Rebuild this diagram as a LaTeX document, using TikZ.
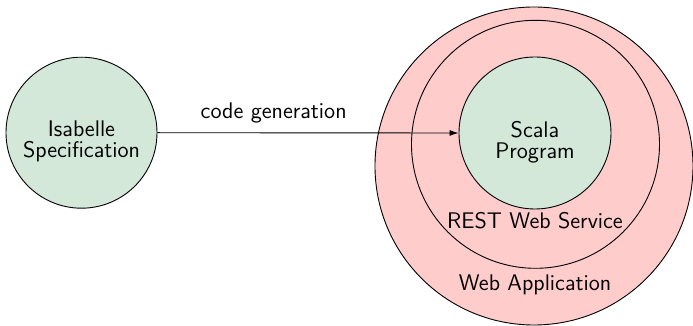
\documentclass[tikz,border=0pt]{standalone}
\usetikzlibrary{arrows.meta}
\definecolor{specgreen}{RGB}{212,232,218}
\definecolor{webpink}{RGB}{255,204,204}
\begin{document}
\begin{tikzpicture}[x=0.5pt,y=-0.5pt,
  ring/.style={circle,draw=black,line width=0.45pt,inner sep=0pt},
  txt/.style={font=\sffamily\fontsize{11.3}{10.5}\selectfont,align=center,inner sep=0pt}]
\useasboundingbox (0,0) rectangle (693,326);
\node[ring,fill=specgreen,minimum size=75.5pt] (isa) at (81.5,132.7) {};
\node[ring,fill=webpink,minimum size=159pt] (webapp) at (534,166) {};
\node[ring,fill=webpink,minimum size=124pt] (rest) at (535.5,144.3) {};
\node[ring,fill=specgreen,minimum size=76pt] (scala) at (535,133) {};
\node[txt] (isatext) at (81.5,141) {Isabelle\\Specification};
\node[txt] (scalatext) at (535,142) {Scala\\Program};
\node[txt] (resttext) at (535,221) {REST Web Service};
\node[txt] (webtext) at (535,285) {Web Application};
\draw[-{Latex[length=4.5pt,width=3pt]},line width=0.45pt] (isa.east) -- (scala.west)
  node[txt,pos=0.386,yshift=9.75pt] (cg) {code generation};
\end{tikzpicture}
\end{document}
